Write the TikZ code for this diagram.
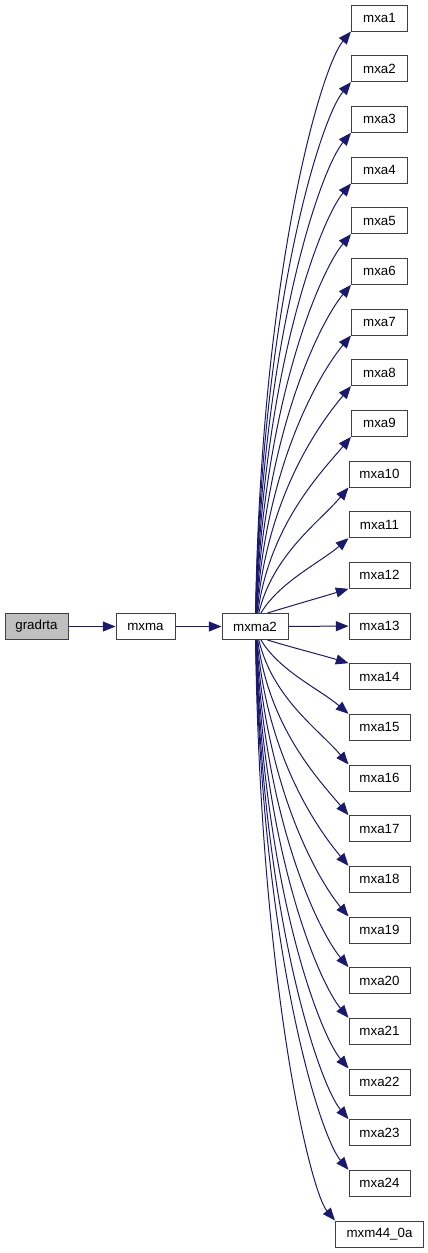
\documentclass[tikz,border=0pt]{standalone}
\usepackage{fontspec}
\setmainfont{Liberation Sans}
\usetikzlibrary{arrows.meta}
\definecolor{edgeblue}{HTML}{191970}
\definecolor{rootgray}{HTML}{BFBFBF}
\tikzset{
  fn/.style={rectangle,draw=black!75,line width=0.75pt,fill=white,minimum height=19.5pt,inner sep=0pt,font=\fontsize{10}{12}\selectfont},
  call/.style={draw=edgeblue,line width=0.75pt,-{Triangle[length=9.5pt,width=7.5pt]}}
}
\begin{document}
\begin{tikzpicture}[x=0.75pt,y=-0.75pt]
\useasboundingbox (0,0) rectangle (428,1253);
% Caller chain
\node[fn,fill=rootgray,minimum width=47.25pt] (gradrta) at (36.5,626.5) {gradrta};
\node[fn,minimum width=44.25pt] (mxma) at (145.5,626.5) {mxma};
\node[fn,minimum width=49.5pt] (mxma2) at (255,626.5) {mxma2};
\draw[call] (gradrta) -- (mxma);
\draw[call] (mxma) -- (mxma2);

% Callees of mxma2
\foreach \i in {1,...,24} {
  \pgfmathsetmacro\w{\i<10 ? 42 : 45.75}
  \node[fn,minimum width=\w pt] (mxa\i) at (379.5,{18+(\i-1)*50.667}) {mxa\i};
}
\node[fn,minimum width=66pt] (mxm44_0a) at (379.5,{18+24*50.667}) {mxm44\_0a};

\draw[call] (mxma2) -- (mxa13);
\foreach \i in {1,...,25} {
  \ifnum\i=13 \else
  \ifnum\i=25 \def\callee{mxm44_0a}\else \edef\callee{mxa\i}\fi
  \ifnum\i<13 \def\srcanc{north west}\def\dstanc{south west}\else \def\srcanc{south west}\def\dstanc{north west}\fi
  \pgfmathsetmacro\d{abs(\i-13)}
  \pgfmathsetmacro\s{\i<13 ? -1 : 1}
  \pgfmathsetmacro\off{33+13/\d}
  \pgfmathsetmacro\xe{\i<10 ? 351.5 : (\i<25 ? 349 : 335.5)}
  \pgfmathsetmacro\dx{\xe-222-\off}
  \pgfmathsetmacro\dy{\d*50.667-26}
  \pgfmathsetmacro\ang{min(atan(\dy/\dx),50)}
  \pgfmathsetmacro\ax{0.33*\dx/(\d^0.7)}
  \pgfmathsetmacro\ay{(0.33+0.3*(1-1/\d)^2)*\dy*\s}
  \pgfmathsetmacro\bx{-0.32*\dx}
  \pgfmathsetmacro\by{-0.32*\dx*tan(\ang)*\s}
  \pgfmathsetmacro\offpt{\off*0.75}
  \draw[call] ([xshift=\offpt pt]mxma2.\srcanc) .. controls +(\ax,\ay) and +(\bx,\by) .. (\callee.\dstanc);
  \fi
}
\end{tikzpicture}
\end{document}
